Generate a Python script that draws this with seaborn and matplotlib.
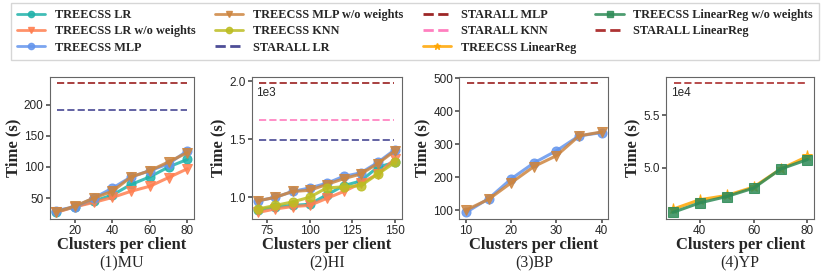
import numpy as np
import pandas as pd
import seaborn as sns
import matplotlib.pyplot as plt
from matplotlib.lines import Line2D
from matplotlib.ticker import FuncFormatter

sns.set_theme(style="ticks")
plt.rcParams['font.family'] = ['Liberation Sans', 'DejaVu Sans']

# ---- data ----
# (1) MU
mu_x = [10, 20, 30, 40, 50, 60, 70, 80]
mu_lr = [28, 36, 45, 55, 72, 84, 100, 112]
mu_lr_now = [27, 36, 43, 51, 61, 69, 83, 97]
mu_mlp = [30, 36, 50, 66, 84, 94, 105, 126]
mu_mlp_now = [28, 37, 50, 61, 84, 94, 108, 123]
mu_star_lr = 191
mu_star_mlp = 234

# (2) HI
hi_x = [70, 80, 90, 100, 110, 120, 130, 140, 150]
hi_lr = [890, 920, 930, 940, 1020, 1100, 1140, 1260, 1300]
hi_lr_now = [870, 900, 920, 930, 990, 1050, 1120, 1200, 1330]
hi_mlp = [970, 1000, 1050, 1080, 1120, 1180, 1210, 1300, 1410]
hi_mlp_now = [970, 1000, 1050, 1060, 1110, 1160, 1200, 1290, 1400]
hi_knn = [900, 930, 960, 1000, 1080, 1090, 1100, 1200, 1300]
hi_star_lr = 1494
hi_star_mlp = 1980
hi_star_knn = 1663

# (3) BP
bp_x = [10, 15, 20, 25, 30, 35, 40]
bp_mlp = [93, 135, 195, 243, 280, 325, 335]
bp_mlp_now = [100, 133, 183, 232, 265, 325, 337]
bp_star_mlp = 484

# (4) YP
yp_x = [30, 40, 50, 60, 70, 80]
yp_linreg = [46100, 47000, 47400, 48200, 49900, 51100]
yp_linreg_now = [45800, 46700, 47300, 48100, 49900, 50800]
yp_star_linreg = 58000

# ---- styles ----
styles = {
    'TREECSS LR': ('#20b2aa', 'o', '-'),
    'TREECSS LR w/o weights': ('#ff7f50', 'v', '-'),
    'TREECSS MLP': ('#6495ed', 'o', '-'),
    'TREECSS MLP w/o weights': ('#cd853f', 'v', '-'),
    'TREECSS KNN': ('#bcbd22', 'o', '-'),
    'STARALL LR': ('#2f2f85', None, '--'),
    'STARALL MLP': ('#8b0000', None, '--'),
    'STARALL KNN': ('#ff69b4', None, '--'),
    'TREECSS LinearReg': ('#ffa500', '*', '-'),
    'TREECSS LinearReg w/o weights': ('#2e8b57', 's', '-'),
    'STARALL LinearReg': ('#a01010', None, '--'),
}

panels = [
    ('(1)MU', mu_x, {'TREECSS LR': mu_lr, 'TREECSS LR w/o weights': mu_lr_now,
                     'TREECSS MLP': mu_mlp, 'TREECSS MLP w/o weights': mu_mlp_now},
     {'STARALL LR': mu_star_lr, 'STARALL MLP': mu_star_mlp}, None),
    ('(2)HI', hi_x, {'TREECSS LR': hi_lr, 'TREECSS LR w/o weights': hi_lr_now,
                     'TREECSS MLP': hi_mlp, 'TREECSS MLP w/o weights': hi_mlp_now,
                     'TREECSS KNN': hi_knn},
     {'STARALL LR': hi_star_lr, 'STARALL MLP': hi_star_mlp, 'STARALL KNN': hi_star_knn}, 1e3),
    ('(3)BP', bp_x, {'TREECSS MLP': bp_mlp, 'TREECSS MLP w/o weights': bp_mlp_now},
     {'STARALL MLP': bp_star_mlp}, None),
    ('(4)YP', yp_x, {'TREECSS LinearReg': yp_linreg, 'TREECSS LinearReg w/o weights': yp_linreg_now},
     {'STARALL LinearReg': yp_star_linreg}, 1e4),
]

serif = 'Liberation Serif'

fig, axes = plt.subplots(1, 4, figsize=(8.3, 2.77), dpi=100,
                         gridspec_kw={'width_ratios': [144, 150, 149, 148]})
fig.subplots_adjust(left=0.060, right=0.981, top=0.722, bottom=0.21, wspace=0.39)

for ax, (title, x, series, hlines, scale) in zip(axes, panels):
    for name, vals in series.items():
        c, m, ls = styles[name]
        sns.lineplot(x=x, y=vals, ax=ax, color=c, marker=m,
                     markersize=8 if m == '*' else 6.5,
                     markeredgecolor=c, linewidth=2.2, alpha=0.85)
    for name, v in hlines.items():
        c, m, ls = styles[name]
        ax.axhline(v, color=c, linestyle=ls, linewidth=1.4, alpha=0.75,
                   xmin=0.05, xmax=0.95)
    ax.set_xlabel('Clusters per client', fontsize=12, fontweight='bold',
                  family=serif, labelpad=0)
    ax.set_ylabel('Time (s)', fontsize=12, fontweight='bold', family=serif,
                  labelpad=2)
    ax.tick_params(labelsize=8.5, length=3, color='#555555', pad=1.5)
    for s in ax.spines.values():
        s.set_color('#666666')
        s.set_linewidth(0.8)
    ax.text(0.5, -0.255, title, transform=ax.transAxes, ha='center', va='top',
            fontsize=11.5, family=serif)
    if scale:
        ax.yaxis.set_major_formatter(FuncFormatter(lambda v, p, s=scale: f'{v / s:.1f}'))
        ax.text(0.03, 0.93, f'1e{int(np.log10(scale))}', transform=ax.transAxes,
                fontsize=8.5, va='top')

axes[0].set_xticks([20, 40, 60, 80])
axes[0].set_yticks([50, 100, 150, 200])
axes[1].set_xticks([75, 100, 125, 150])
axes[1].set_yticks([1000, 1500, 2000])
axes[2].set_xticks([10, 20, 30, 40])
axes[2].set_yticks([100, 200, 300, 400, 500])
axes[3].set_xticks([40, 60, 80])
axes[3].set_yticks([50000, 55000])

handles = []
labels = []
for name, (c, m, ls) in styles.items():
    handles.append(Line2D([], [], color=c, marker=m, linestyle=ls, linewidth=2,
                          markersize=4.5, alpha=0.85))
    labels.append(name)

fig.legend(handles, labels, ncol=4, loc='upper center',
           bbox_to_anchor=(0.5, 1.0), borderaxespad=0.25,
           prop={'family': serif, 'weight': 'bold', 'size': 8.8},
           frameon=True, fancybox=False, edgecolor='#cccccc',
           handlelength=2.3, labelspacing=0.35, borderpad=0.5,
           columnspacing=1.6, handletextpad=0.8)

fig.savefig('out.png', dpi=100)
